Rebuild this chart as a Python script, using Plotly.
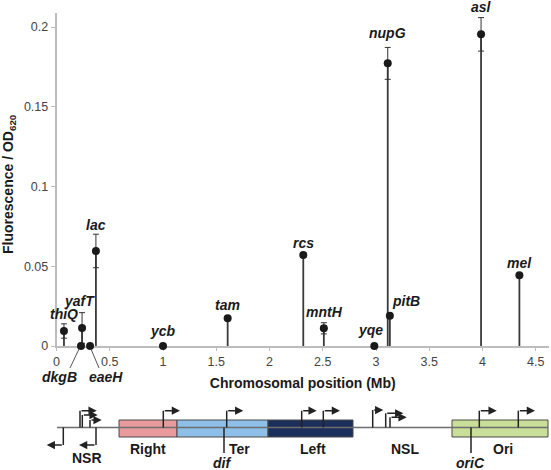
import plotly.graph_objects as go

# ---------------- data ----------------
genes = ["thiQ", "dkgB", "yafT", "eaeH", "lac", "ycb", "tam", "rcs", "mntH",
         "yqe", "nupG", "pitB", "asl", "mel"]
position_mb = [0.07, 0.23, 0.24, 0.315, 0.37, 1.0, 1.607, 2.317, 2.51,
               2.984, 3.11, 3.13, 3.986, 4.346]
fluorescence = [0.0094, 0.0, 0.0113, 0.0, 0.0596, 0.0, 0.0174, 0.057, 0.0111,
                0.0, 0.1772, 0.019, 0.1954, 0.0443]
error = [0.0045, 0.0, 0.0096, 0.0, 0.0105, 0.0, 0.0, 0.0015, 0.0035,
         0.0, 0.01, 0.0, 0.0105, 0.0]
y_ticks = [0, 0.05, 0.1, 0.15, 0.2]
y_tick_labels = ["0", "0.05", "0.1", "0.15", "0.2"]
x_ticks = [0, 0.5, 1, 1.5, 2, 2.5, 3, 3.5, 4, 4.5]
x_tick_labels = ["0", "0.5", "1", "1.5", "2", "2.5", "3", "3.5", "4", "4.5"]

# label offsets in pixels (xshift, yshift) — styling
label_offsets = {
    "thiQ": (0, 17), "dkgB": (-22, -31), "yafT": (-3, 27), "eaeH": (16, -31),
    "lac": (0, 26), "ycb": (0, 15), "tam": (0, 13), "rcs": (0, 12),
    "mntH": (1, 16), "yqe": (-4, 16), "nupG": (0, 30), "pitB": (16, 15),
    "asl": (0, 27), "mel": (0, 12),
}

FONT = 'Arial, "Liberation Sans", sans-serif'
W, H = 551, 470

fig = go.Figure()

# stems
sx, sy = [], []
for x, v in zip(position_mb, fluorescence):
    if v > 0:
        sx += [x, x, None]
        sy += [0, v, None]
fig.add_trace(go.Scatter(x=sx, y=sy, mode="lines",
                         line=dict(color="#3a3a3a", width=1.8),
                         hoverinfo="skip", showlegend=False, cliponaxis=False))

# points with error bars
fig.add_trace(go.Scatter(
    x=position_mb, y=fluorescence, mode="markers", text=genes,
    marker=dict(color="#1a1a1a", size=8),
    error_y=dict(type="data", array=error, visible=True, color="#333333",
                 thickness=1, width=3),
    showlegend=False, cliponaxis=False))

annotations = []
for g, x, v in zip(genes, position_mb, fluorescence):
    dx, dy = label_offsets[g]
    annotations.append(dict(
        x=x, y=v, xref="x", yref="y", text=f"<b><i>{g}</i></b>",
        showarrow=False, xshift=dx, yshift=dy, xanchor="center", yanchor="middle",
        font=dict(family=FONT, size=14, color="#1a1a1a")))

# y-axis title
annotations.append(dict(
    x=9 / W, y=1 - 184 / H, xref="paper", yref="paper",
    text="<b>Fluorescence / OD<sub>620</sub></b>", textangle=-90,
    showarrow=False, xanchor="center", yanchor="middle",
    font=dict(family=FONT, size=14, color="#1a1a1a")))

# ---------------- chromosome schematic (pixel-space axis x2/y2) ----------------
shapes = []
regions = [  # (x0, x1, fill)
    (119, 177, "#e89a9c"),
    (177, 268, "#8dbfe8"),
    (268, 353, "#1b2e5c"),
    (452, 548, "#c9de98"),
]
for x0, x1, fill in regions:
    shapes.append(dict(type="rect", xref="x2", yref="y2", x0=x0, x1=x1,
                       y0=420, y1=437, fillcolor=fill,
                       line=dict(color="#4a4a4a", width=1)))
# baseline
shapes.append(dict(type="line", xref="x2", yref="y2", x0=57, x1=548,
                   y0=427.5, y1=427.5, line=dict(color="#6e6e6e", width=1.5)))
# leader lines for dkgB / eaeH labels
for x0, y0, x1, y1 in [(79, 349, 70, 368), (91, 349, 99, 368)]:
    shapes.append(dict(type="line", xref="x2", yref="y2", x0=x0, x1=x1,
                       y0=y0, y1=y1, line=dict(color="#555555", width=1)))
# dif / oriC markers
for xm in [224, 471]:
    shapes.append(dict(type="line", xref="x2", yref="y2", x0=xm, x1=xm,
                       y0=427.5, y1=453, line=dict(color="#222222", width=1.5)))

# promoters: (x_stem, y_top, x_end)
promoters = [
    (80, 410.7, 96.7), (82.3, 415, 97.7), (90, 420, 101.7),
    (63.3, 445, 46.7), (96, 445, 79),
    (163.3, 410.7, 180), (226.7, 410.7, 243.3),
    (301.7, 410.7, 316.7), (323.3, 410.7, 340),
    (372.7, 410, 383.3), (385.7, 413.3, 403.3), (390, 417.3, 406.7),
    (479.3, 410.7, 496.7), (518.3, 410.7, 535),
]
for xs, yt, xe in promoters:
    shapes.append(dict(type="line", xref="x2", yref="y2", x0=xs, x1=xs,
                       y0=427.5, y1=yt, line=dict(color="#222222", width=1.5)))
    annotations.append(dict(
        x=xe, y=yt, ax=xs, ay=yt, xref="x2", yref="y2", axref="x2", ayref="y2",
        showarrow=True, arrowhead=2, arrowsize=1.1, arrowwidth=1.5,
        arrowcolor="#222222", text=""))

diagram_texts = [
    ("<b>NSR</b>", 87, 458), ("<b>Right</b>", 148, 449), ("<b>Ter</b>", 239, 449),
    ("<b><i>dif</i></b>", 222, 463), ("<b>Left</b>", 313, 449),
    ("<b>NSL</b>", 405, 449), ("<b>Ori</b>", 503, 449),
    ("<b><i>oriC</i></b>", 470, 463),
]
for t, x, y in diagram_texts:
    annotations.append(dict(x=x, y=y, xref="x2", yref="y2", text=t,
                            showarrow=False, xanchor="center", yanchor="middle",
                            font=dict(family=FONT, size=14, color="#1a1a1a")))

# invisible trace to activate x2/y2
fig.add_trace(go.Scatter(x=[0], y=[0], xaxis="x2", yaxis="y2", mode="markers",
                         marker=dict(opacity=0), showlegend=False, hoverinfo="skip"))

x_top = 4.624
y_top = (346 - 13) / 1595

fig.update_layout(
    width=W, height=H,
    margin=dict(l=0, r=0, t=0, b=0, autoexpand=False),
    paper_bgcolor="white", plot_bgcolor="rgba(0,0,0,0)",
    font=dict(family=FONT),
    xaxis=dict(domain=[56.5 / W, 549 / W], range=[0, x_top], automargin=False,
               tickvals=x_ticks, ticktext=x_tick_labels,
               showgrid=False, zeroline=False, showline=True,
               linecolor="#bdbdbd", linewidth=1.5, layer="below traces",
               ticks="outside", ticklen=3, tickcolor="#bdbdbd",
               tickfont=dict(family=FONT, size=12.5, color="#444444"),
               title=dict(text="<b>Chromosomal position (Mb)</b>",
                          font=dict(family=FONT, size=14, color="#1a1a1a"),
                          standoff=10)),
    yaxis=dict(domain=[(H - 346) / H, (H - 13) / H], range=[0, y_top], automargin=False,
               tickvals=y_ticks, ticktext=y_tick_labels,
               showgrid=False, zeroline=False, showline=True,
               linecolor="#bdbdbd", linewidth=1.5, layer="below traces",
               ticks="outside", ticklen=4, tickcolor="#bdbdbd",
               tickfont=dict(family=FONT, size=12.5, color="#444444")),
    xaxis2=dict(domain=[0, 1], range=[0, W], visible=False, anchor="y2", automargin=False),
    yaxis2=dict(domain=[0, 1], range=[H, 0], visible=False, anchor="x2", automargin=False),
    shapes=shapes,
    annotations=annotations,
)

fig.write_html("out.html", config={"displayModeBar": False},
               post_script="document.body.style.margin='0';document.body.style.overflow='hidden';")
